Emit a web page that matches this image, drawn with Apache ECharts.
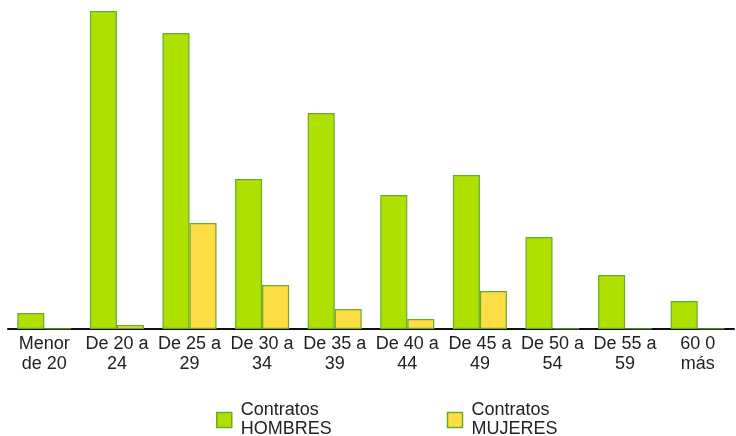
<!DOCTYPE html>
<html><head><meta charset="utf-8">
<script src="https://cdn.jsdelivr.net/npm/echarts@6/dist/echarts.min.js"></script>
<style>html,body{margin:0;padding:0;background:#fff}#c{width:736px;height:436px}</style>
</head><body><div id="c"></div>
<script>
const categories = ['Menor\nde 20','De 20 a\n24','De 25 a\n29','De 30 a\n34','De 35 a\n39','De 40 a\n44','De 45 a\n49','De 50 a\n54','De 55 a\n59','60 0\nmás'];
const hombres = [16, 318, 296, 150, 216, 134, 154, 92, 54, 28];
const mujeres = [0.5, 4, 106, 44, 20, 10, 38, 0.5, 0.5, 0.5];
const seriesNames = ['Contratos\nHOMBRES', 'Contratos\nMUJERES'];

const chart = echarts.init(document.getElementById('c'));
const font = 'Liberation Sans, Arial, sans-serif';
chart.setOption({
  animation: false,
  grid: {left: 8, right: 2, top: 11, bottom: 107, containLabel: false},
  legend: {
    data: seriesNames,
    left: 211, top: 396,
    itemWidth: 15, itemHeight: 15, itemGap: 115,
    icon: 'rect',
    textStyle: {fontFamily: font, fontSize: 18, color: '#222', lineHeight: 19, padding: [0, 0, 0, 4]},
    itemStyle: {borderColor: '#6aaa2a', borderWidth: 1.5}
  },
  xAxis: {
    type: 'category', data: categories,
    axisLine: {lineStyle: {color: '#111', width: 2}},
    axisTick: {show: false},
    axisLabel: {interval: 0, fontFamily: font, fontSize: 18, color: '#222', lineHeight: 20, margin: 5}
  },
  yAxis: {type: 'value', min: 0, max: 318, show: false, splitLine: {show: false}},
  series: [
    {name: seriesNames[0], type: 'bar', data: hombres, barWidth: 27, barGap: '0%', barCategoryGap: '25%',
     itemStyle: {color: '#aee000', borderColor: '#6aaa2a', borderWidth: 1.2}},
    {name: seriesNames[1], type: 'bar', data: mujeres, barWidth: 27,
     itemStyle: {color: '#ffdd44', borderColor: '#6aaa2a', borderWidth: 1.2}}
  ]
});
</script></body></html>
